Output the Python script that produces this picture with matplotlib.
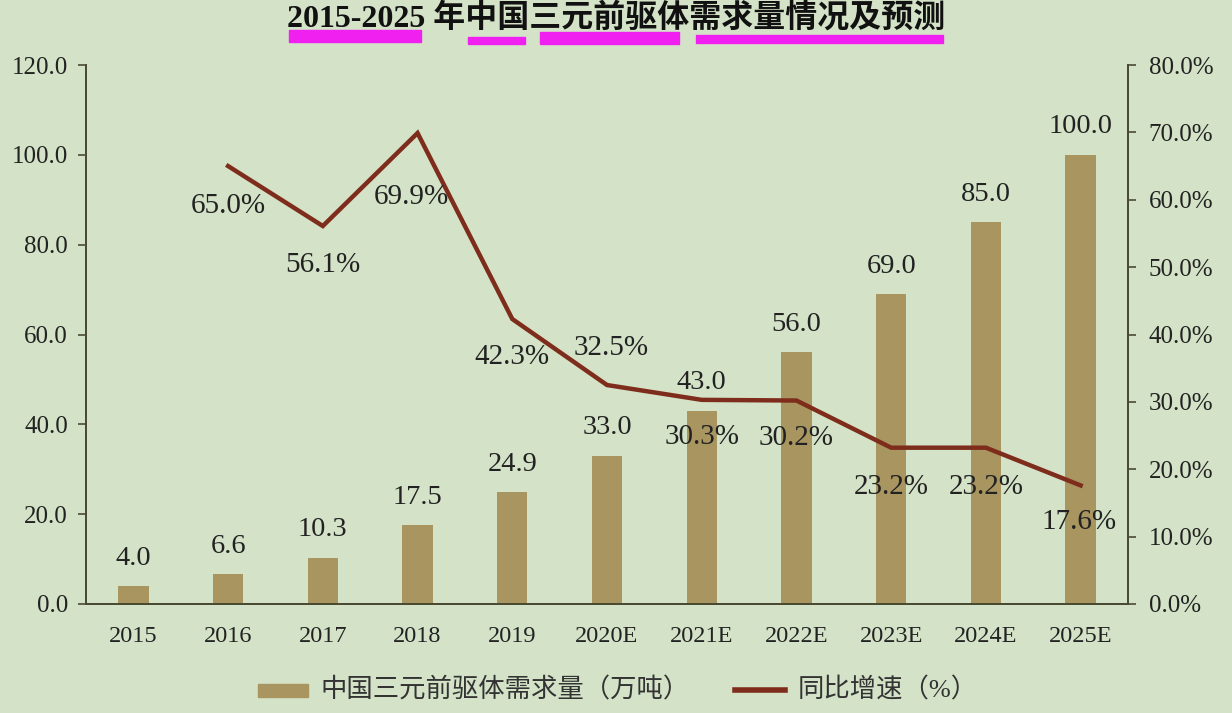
import matplotlib
matplotlib.use("Agg")
import matplotlib.pyplot as plt
from matplotlib.patches import Rectangle
from matplotlib.ticker import FuncFormatter, MultipleLocator

years = ["2015", "2016", "2017", "2018", "2019", "2020E", "2021E",
         "2022E", "2023E", "2024E", "2025E"]
demand = [4.0, 6.6, 10.3, 17.5, 24.9, 33.0, 43.0, 56.0, 69.0, 85.0, 100.0]
growth_years = years[1:]
growth = [65.0, 56.1, 69.9, 42.3, 32.5, 30.3, 30.2, 23.2, 23.2, 17.6]

bg = "#D4E3C7"
bar_col = "#A89560"
line_col = "#7E2C1C"
axis_col = "#4A4A32"
fonts = ["Liberation Serif", "Noto Sans CJK SC"]
plt.rcParams["font.family"] = fonts

fig = plt.figure(figsize=(12.32, 7.13), dpi=100, facecolor=bg)
W, H = 1232, 713
ax = fig.add_axes([86 / W, 1 - 604 / H, (1128 - 86) / W, (604 - 65) / H])
ax.set_facecolor(bg)
ax2 = ax.twinx()

x = list(range(len(years)))
ax.bar(x, demand, width=0.32, color=bar_col, zorder=2)
ax.set_xlim(-0.5, len(years) - 0.5)
ax.set_ylim(0, 120)
ax.yaxis.set_major_locator(MultipleLocator(20))
ax.yaxis.set_major_formatter(FuncFormatter(lambda v, p: "%.1f" % v))
ax.set_xticks(x)
ax.set_xticklabels(years)

for xi, v in zip(x, demand):
    ax.annotate("%.1f" % v, (xi, v), xytext=(0, 28), textcoords="offset pixels",
                ha="center", va="center", fontsize=20.5, color="#222222")

gx = [years.index(y) for y in growth_years]
ax2.plot(gx, [g / 100 for g in growth], color=line_col, lw=3.2, zorder=3,
         solid_joinstyle="miter")
ax2.set_ylim(0, 0.8)
ax2.yaxis.set_major_locator(MultipleLocator(0.1))
ax2.yaxis.set_major_formatter(FuncFormatter(lambda v, p: "%.1f%%" % (v * 100)))

label_dy = [-40, -39, -64, -38, 37, -37, -37, -39, -39, -37]
label_dx = [0, 0, -6, 0, 4, 0, 0, 0, 0, -2]
for xi, g, dx, dy in zip(gx, growth, label_dx, label_dy):
    ax2.annotate("%.1f%%" % g, (xi, g / 100), xytext=(dx, dy), textcoords="offset pixels",
                 ha="center", va="center", fontsize=21, color="#222222")

for a in (ax, ax2):
    a.spines["top"].set_visible(False)
    for s in a.spines.values():
        s.set_color(axis_col)
        s.set_linewidth(1.3)
    a.tick_params(colors=axis_col, labelcolor="#222222", labelsize=18,
                  direction="out", length=6, width=1.2)
ax.tick_params(axis="x", length=0, pad=16, labelsize=17.5)
ax.tick_params(axis="y", pad=7)
ax2.tick_params(axis="y", pad=9)

# legend
fig.patches.append(Rectangle((258 / W, 1 - 697 / H), 50 / W, 13 / H,
                             transform=fig.transFigure, color=bar_col))
fig.text(320 / W, 1 - 690 / H, "中国三元前驱体需求量（万吨）", fontsize=19,
         va="center", ha="left", color="#333333", family=fonts)
fig.lines.append(plt.Line2D([735 / W, 785 / W], [1 - 690 / H, 1 - 690 / H],
                            transform=fig.transFigure, color=line_col, lw=4))
fig.text(798 / W, 1 - 690 / H, "同比增速（%）", fontsize=19,
         va="center", ha="left", color="#333333", family=fonts)

# title with highlight marks
for x0, x1, y0, y1 in [(289, 421, 30, 42), (468, 525, 37, 44),
                       (540, 679, 32, 44), (696, 943, 35, 43)]:
    fig.patches.append(Rectangle((x0 / W, 1 - y1 / H), (x1 - x0) / W, (y1 - y0) / H,
                                 transform=fig.transFigure, color="#F020F0", zorder=0))
fig.text(616 / W, 1 - 18 / H, "2015-2025 年中国三元前驱体需求量情况及预测",
         fontsize=23, fontweight="bold", ha="center", va="center",
         color="#111111", family=fonts, zorder=5)

fig.savefig("out.png", dpi=100, facecolor=bg)
